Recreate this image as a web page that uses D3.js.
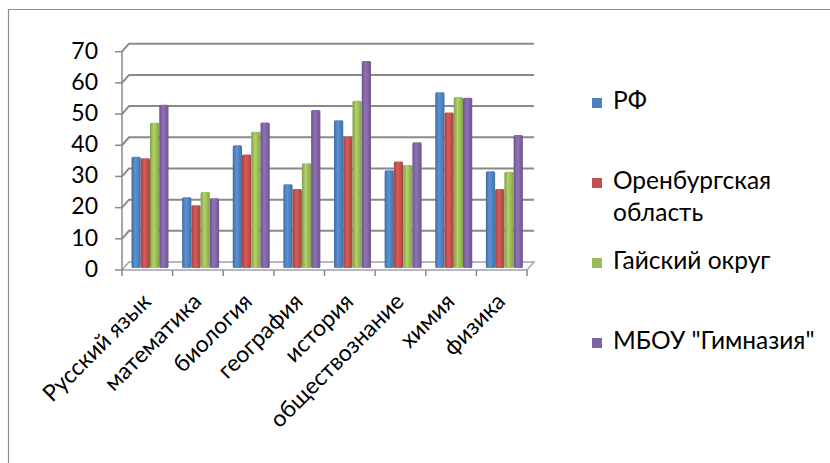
<!DOCTYPE html>
<html><head><meta charset="utf-8">
<script src="https://cdn.jsdelivr.net/npm/d3@7"></script>
<style>body{margin:0;background:#fff}svg{display:block}text{font-family:Lato,"Noto Sans",sans-serif;fill:#000}</style>
</head><body><svg id="c" width="830" height="463"></svg>
<script>
const categories = ["Русский язык","математика","биология","география","история","обществознание","химия","физика"];
const seriesNames = ["РФ","Оренбургская область","Гайский округ","МБОУ \"Гимназия\""];
const rf = [36.3, 23.3, 40, 27.5, 48, 32, 57, 31.7];
const orenburg = [35.8, 20.8, 37, 26, 42.8, 34.8, 50.5, 26];
const gai = [47.2, 25, 44.3, 34.2, 54.3, 33.7, 55.5, 31.5];
const gymn = [53, 23, 47.3, 51.3, 67, 41, 55.2, 43.3];
const yTicks = [0,10,20,30,40,50,60,70];
const colors = ["#4F81BD","#C0504D","#9BBB59","#8064A2"];
const allSeries = [rf, orenburg, gai, gymn];

const svg = d3.select("#c");
svg.append("path").attr("d","M8.5,463 V9.5 H830").attr("fill","none").attr("stroke","#8c8c8c").attr("stroke-width",1.2);

const x0 = 122, x1 = 527, yBase = 270, yTop = 51.7;
const dx = 7, dy = -8;
const x = d3.scaleBand().domain(categories).range([x0,x1]).paddingInner(0).paddingOuter(0);
const y = d3.scaleLinear().domain([0,70]).range([yBase,yTop]);
const xs = d3.scaleBand().domain(d3.range(4)).range([9.5, 46.5]).padding(0);

const defs = svg.append("defs");
colors.forEach((c,i)=>{
  const g = defs.append("linearGradient").attr("id","g"+i).attr("x1","0").attr("x2","1").attr("y1","0").attr("y2","0");
  const base = d3.color(c);
  g.append("stop").attr("offset","0%").attr("stop-color",base.darker(0.5));
  g.append("stop").attr("offset","40%").attr("stop-color",base.brighter(0.35));
  g.append("stop").attr("offset","100%").attr("stop-color",base.darker(0.4));
});

const grid = svg.append("g").attr("stroke","#8a8a8a").attr("fill","none");
yTicks.forEach(t=>{
  const yy = y(t);
  if (t>0) {
    grid.append("path").attr("d",`M${x0},${yy} L${x0+dx},${yy+dy} H${x1+dx}`).attr("stroke-width",2);
  }
  grid.append("line").attr("x1",x0-7).attr("x2",x0).attr("y1",yy).attr("y2",yy).attr("stroke-width",1.5);
});
grid.append("path").attr("d",`M${x0},${yBase} L${x0+dx},${yBase+dy} H${x1+dx} L${x1},${yBase} Z`).attr("stroke-width",1.3).attr("stroke","#a0a0b0");
grid.append("line").attr("x1",x0).attr("x2",x0).attr("y1",yTop).attr("y2",yBase).attr("stroke-width",1.5);
d3.range(categories.length+1).forEach(i=>{
  const xx = x0 + i*x.bandwidth();
  grid.append("line").attr("x1",xx).attr("x2",xx).attr("y1",yBase).attr("y2",yBase+6).attr("stroke-width",1.5);
});

const bars = svg.append("g");
allSeries.forEach((vals,si)=>{
  bars.selectAll(null).data(vals).join("rect")
    .attr("x",(d,i)=>x(categories[i])+xs(si))
    .attr("width",xs.bandwidth())
    .attr("y",d=>y(d))
    .attr("height",d=>yBase-2-y(d))
    .attr("rx",1.5)
    .attr("fill",`url(#g${si})`);
});

svg.append("g").selectAll("text").data(yTicks).join("text")
  .attr("x",98).attr("y",d=>y(d)+1).attr("text-anchor","end").attr("dominant-baseline","middle")
  .attr("font-size",23).text(d=>d);

svg.append("g").selectAll("text").data(categories).join("text")
  .attr("transform",d=>`translate(${x(d)+x.bandwidth()/2+5},${303}) rotate(-45)`)
  .attr("text-anchor","end").attr("font-size",23).text(d=>d);

const legend = [
  {i:0, lines:["РФ"], y:103},
  {i:1, lines:["Оренбургская","область"], y:183},
  {i:2, lines:["Гайский округ"], y:263},
  {i:3, lines:["МБОУ \"Гимназия\""], y:343}
];
const lg = svg.append("g");
legend.forEach(l=>{
  lg.append("rect").attr("x",592).attr("y",l.y-5).attr("width",10).attr("height",10).attr("fill",colors[l.i]);
  l.lines.forEach((t,k)=>{
    lg.append("text").attr("x",613).attr("y",l.y+k*32).attr("dominant-baseline","middle").attr("font-size",24.5).text(t);
  });
});
</script></body></html>
